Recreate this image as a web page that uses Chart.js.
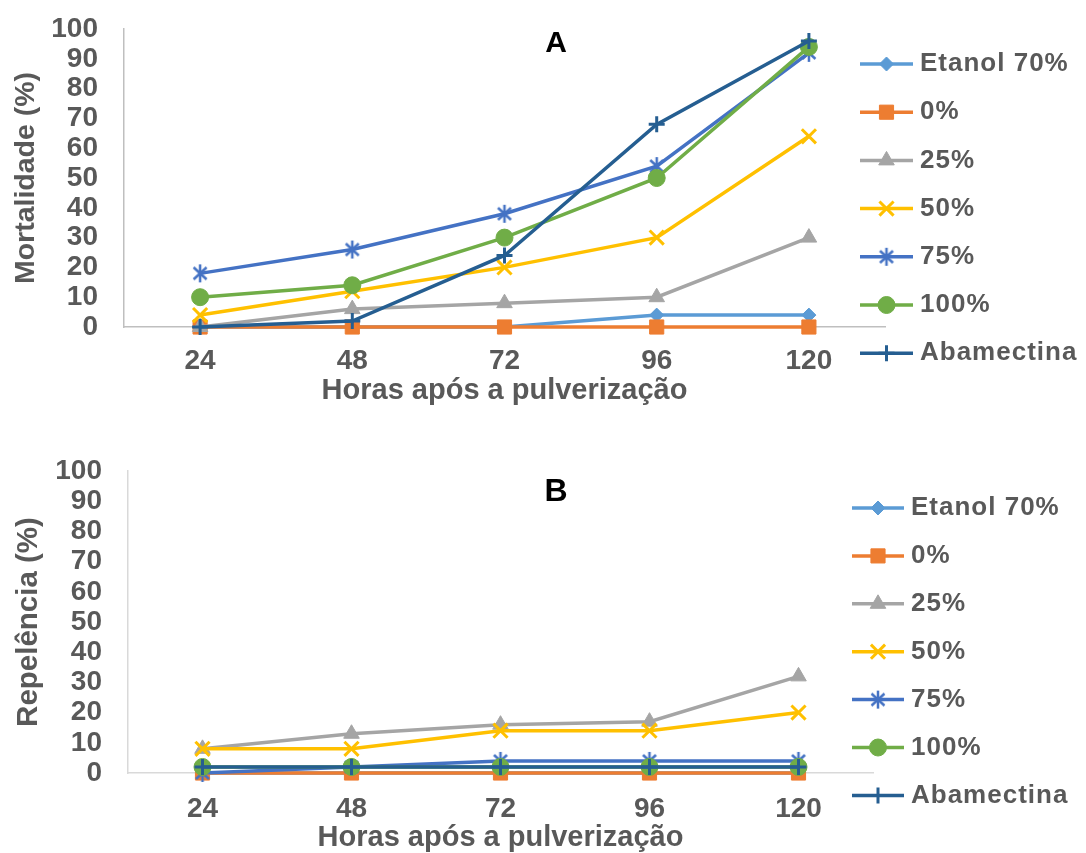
<!DOCTYPE html>
<html>
<head>
<meta charset="utf-8">
<script src="https://cdn.jsdelivr.net/npm/chart.js@4"></script>
<style>
  html, body { margin: 0; padding: 0; background: #fff; overflow: hidden; }
  .painel { position: absolute; left: 0; }
  canvas { display: block; }
</style>
</head>
<body>
<div class="painel" style="top:0"><canvas id="chartA" width="1086" height="420"></canvas></div>
<div class="painel" style="top:440px"><canvas id="chartB" width="1086" height="413"></canvas></div>
<script>
// horas após a pulverização
const horas = ["24", "48", "72", "96", "120"];
const tratamentos = ["Etanol 70%", "0%", "25%", "50%", "75%", "100%", "Abamectina"];

// A - mortalidade (%)
const mortEtanol = [0, 0, 0, 4, 4];
const mort0 = [0, 0, 0, 0, 0];
const mort25 = [0, 6, 8, 10, 30];
const mort50 = [4, 12, 20, 30, 64];
const mort75 = [18, 26, 38, 54, 92];
const mort100 = [10, 14, 30, 50, 94];
const mortAbam = [0, 2, 24, 68, 96];

// B - repelência (%)
const repEtanol = [0, 0, 0, 0, 0];
const rep0 = [0, 0, 0, 0, 0];
const rep25 = [8, 13, 16, 17, 32];
const rep50 = [8, 8, 14, 14, 20];
const rep75 = [0, 2, 4, 4, 4];
const rep100 = [2, 2, 2, 2, 2];
const repAbam = [2, 2, 2, 2, 2];

const yMax = 100;
const yStep = 10;

Chart.defaults.font.family = '"Liberation Sans", Arial, sans-serif';
Chart.defaults.color = "#595959";

// asterisco do Excel (X + traço vertical)
const asterisco = (cor) => {
  const c = document.createElement("canvas");
  c.width = 20;
  c.height = 20;
  const g = c.getContext("2d");
  g.strokeStyle = cor;
  g.lineWidth = 2.5;
  g.lineCap = "butt";
  g.beginPath();
  g.moveTo(10, 1); g.lineTo(10, 19);
  g.moveTo(3.5, 4); g.lineTo(16.5, 16);
  g.moveTo(16.5, 4); g.lineTo(3.5, 16);
  g.stroke();
  return c;
};

// cores e marcadores no estilo do Excel
const estilos = [
  { cor: "#5B9BD5", ponto: "rectRot", r: 7 },
  { cor: "#ED7D31", ponto: "rect", r: 10 },
  { cor: "#A5A5A5", ponto: "triangle", r: 9 },
  { cor: "#FFC000", ponto: "crossRot", r: 10 },
  { cor: "#4472C4", ponto: asterisco("#4472C4"), r: 9 },
  { cor: "#70AD47", ponto: "circle", r: 8.5 },
  { cor: "#255E91", ponto: "cross", r: 8 },
];

const makeDatasets = (series) =>
  series.map((valores, i) => {
    const e = estilos[i];
    const linha = e.ponto === "cross" || e.ponto === "crossRot";
    return {
      label: tratamentos[i],
      data: valores,
      borderColor: e.cor,
      backgroundColor: e.cor,
      borderWidth: 3.5,
      pointStyle: e.ponto,
      pointRadius: e.r,
      pointBackgroundColor: e.cor,
      pointBorderColor: e.cor,
      pointBorderWidth: linha ? 3 : 1,
      tension: 0,
      clip: false,
      order: series.length - i, // último tratamento por cima
    };
  });

// letra do painel + legenda com linha e marcador
const painelPlugin = {
  id: "painel",
  afterDatasetsDraw(chart, args, opts) {
    const ctx = chart.ctx;
    ctx.save();
    ctx.fillStyle = "#000";
    ctx.font = `bold ${opts.letraTam}px "Liberation Sans", Arial, sans-serif`;
    ctx.textAlign = "center";
    ctx.textBaseline = "middle";
    ctx.fillText(opts.letra, opts.letraX, opts.letraY);

    ctx.font = 'bold 26px "Liberation Sans", Arial, sans-serif';
    ctx.letterSpacing = "1px";
    ctx.textAlign = "left";
    chart.data.datasets.forEach((ds, i) => {
      const y = opts.top + i * opts.step;
      ctx.strokeStyle = ds.borderColor;
      ctx.lineWidth = 3.5;
      ctx.beginPath();
      ctx.moveTo(opts.x0, y);
      ctx.lineTo(opts.x1, y);
      ctx.stroke();
      ctx.fillStyle = ds.pointBackgroundColor;
      ctx.strokeStyle = ds.pointBorderColor;
      ctx.lineWidth = ds.pointBorderWidth;
      Chart.helpers.drawPoint(
        ctx,
        { pointStyle: ds.pointStyle, radius: ds.pointRadius, rotation: 0, borderWidth: ds.pointBorderWidth },
        (opts.x0 + opts.x1) / 2,
        y
      );
      ctx.fillStyle = "#595959";
      ctx.fillText(ds.label, opts.tx, y);
    });
    ctx.restore();
  },
};

const makeOptions = (c) => ({
  responsive: false,
  animation: false,
  layout: { padding: { top: c.padTop, right: c.padRight, left: 0, bottom: 0 } },
  plugins: {
    legend: { display: false },
    tooltip: { enabled: false },
    painel: c.painel,
  },
  scales: {
    x: {
      type: "category",
      offset: true,
      grid: { drawOnChartArea: false, drawTicks: false },
      border: { display: true, color: c.eixo, width: 1.5 },
      ticks: { padding: c.xTickPad, font: { size: 28, weight: "bold" }, color: "#595959", maxRotation: 0 },
      title: {
        display: true,
        text: "Horas após a pulverização",
        font: { size: 29, weight: "bold", lineHeight: 1 },
        color: "#595959",
        padding: { top: 0, bottom: c.xTitlePad },
      },
      afterFit: (s) => { s.height = c.xAltura; },
    },
    y: {
      min: 0,
      max: yMax,
      grid: { drawOnChartArea: false, drawTicks: false },
      border: { display: true, color: c.eixo, width: 1.5 },
      ticks: { stepSize: yStep, autoSkip: false, padding: 26, font: { size: 28, weight: "bold", lineHeight: 1 }, color: "#595959" },
      title: {
        display: true,
        text: c.yTitulo,
        font: { size: c.yTitTam, weight: "bold", lineHeight: 1 },
        color: "#595959",
        padding: { top: c.yTitlePad, bottom: 0 },
      },
      afterFit: (s) => {
        s.width = c.yLargura;
        // o padding dos rótulos não deve empurrar a área do gráfico
        s.paddingTop = 0;
        s.paddingBottom = 0;
      },
    },
  },
});

new Chart(document.getElementById("chartA"), {
  type: "line",
  data: {
    labels: horas,
    datasets: makeDatasets([mortEtanol, mort0, mort25, mort50, mort75, mort100, mortAbam]),
  },
  options: makeOptions({
    padTop: 29, padRight: 201, eixo: "#bfbfbf",
    xTickPad: 17, xTitlePad: 15, xAltura: 93,
    yTitulo: "Mortalidade (%)", yTitTam: 28.5, yTitlePad: 12, yLargura: 124,
    painel: { letra: "A", letraTam: 30, letraX: 556, letraY: 44, x0: 860, x1: 913, tx: 920, top: 64, step: 48.2 },
  }),
  plugins: [painelPlugin],
});

new Chart(document.getElementById("chartB"), {
  type: "line",
  data: {
    labels: horas,
    datasets: makeDatasets([repEtanol, rep0, rep25, rep50, rep75, rep100, repAbam]),
  },
  options: makeOptions({
    padTop: 31, padRight: 213, eixo: "#d9d9d9",
    xTickPad: 19, xTitlePad: 1, xAltura: 80,
    yTitulo: "Repelência (%)", yTitTam: 29.5, yTitlePad: 14, yLargura: 128,
    painel: { letra: "B", letraTam: 32, letraX: 556, letraY: 52, x0: 852, x1: 904, tx: 911, top: 68, step: 47.9 },
  }),
  plugins: [painelPlugin],
});
</script>
</body>
</html>
